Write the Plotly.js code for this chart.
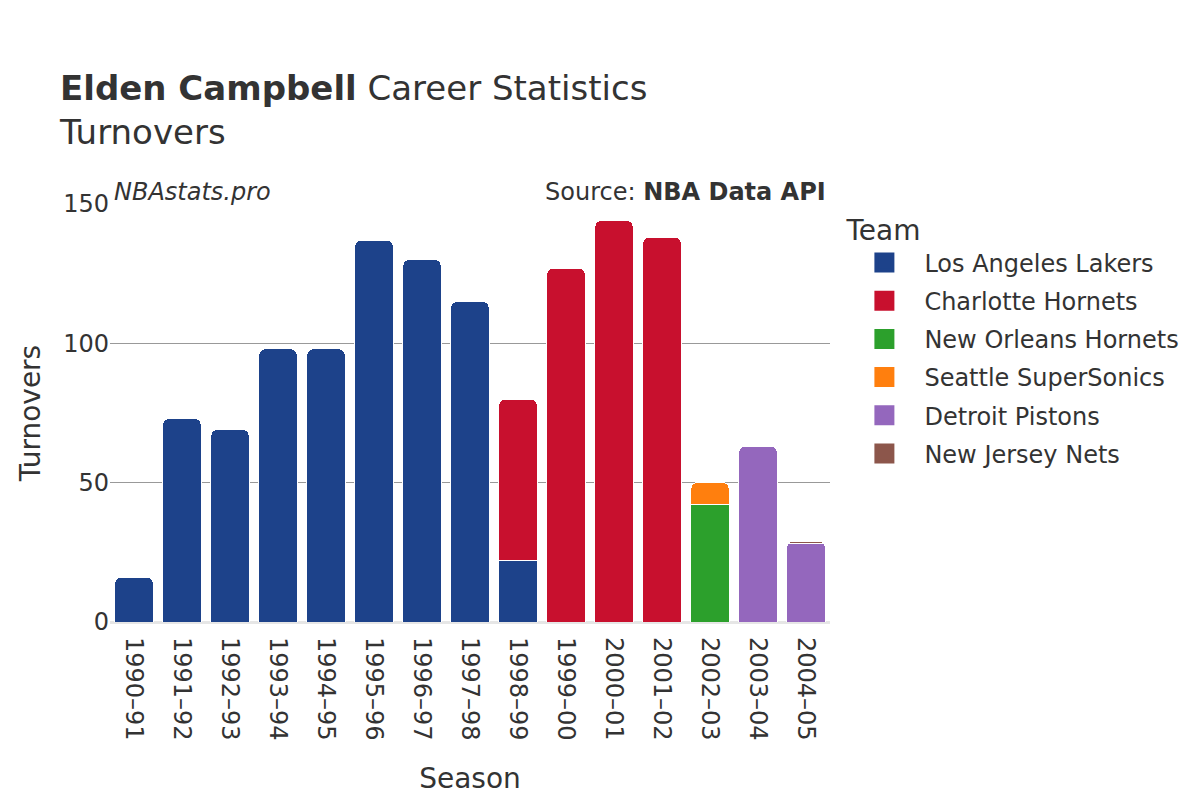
<!DOCTYPE html>
<html>
<head>
<meta charset="utf-8">
<script src="https://cdn.plot.ly/plotly-3.0.1.min.js"></script>
<style>html,body{margin:0;padding:0;background:#fff;}#chart{width:1200px;height:800px;}</style>
</head>
<body>
<div id="chart"></div>
<script>
const seasons = ["1990–91","1991–92","1992–93","1993–94","1994–95","1995–96","1996–97","1997–98","1998–99","1999–00","2000–01","2001–02","2002–03","2003–04","2004–05"];
const teams = ["Los Angeles Lakers","Charlotte Hornets","New Orleans Hornets","Seattle SuperSonics","Detroit Pistons","New Jersey Nets"];
const teamColors = ["#1D428A","#C8102E","#2CA02C","#FF7F0E","#9467BD","#8C564B"];
const lakers   = [16,73,69,98,98,137,130,115,22,null,null,null,null,null,null];
const charlotte= [null,null,null,null,null,null,null,null,58,127,144,138,null,null,null];
const noh      = [null,null,null,null,null,null,null,null,null,null,null,null,42,null,null];
const seattle  = [null,null,null,null,null,null,null,null,null,null,null,null,8,null,null];
const detroit  = [null,null,null,null,null,null,null,null,null,null,null,null,null,63,28];
const nets     = [null,null,null,null,null,null,null,null,null,null,null,null,null,null,1];
const seriesValues = [lakers,charlotte,noh,seattle,detroit,nets];

const barTraces = teams.map((t,i)=>({
  type:"bar", name:t, x:seasons, y:seriesValues[i], legendgroup:"g"+i, showlegend:false,
  marker:{color:teamColors[i], line:{color:"#ffffff", width:1}},
  hoverinfo:"skip"
}));
// legend-only swatches (larger squares like the reference)
const legendTraces = teams.map((t,i)=>({
  type:"scatter", mode:"markers", name:t, x:[null], y:[null], legendgroup:"g"+i, showlegend:true,
  marker:{symbol:"square", size:16, color:teamColors[i], line:{color:teamColors[i], width:4}},
  hoverinfo:"skip"
}));

const font = {family:"DejaVu Sans, sans-serif", color:"#333333"};
const F = (s)=>Object.assign({}, font, {size:s});
const layout = {
  width:1200, height:800,
  barmode:"stack", bargap:0.2, barcornerradius:6,
  font:F(24),
  paper_bgcolor:"#ffffff", plot_bgcolor:"#ffffff",
  margin:{l:110, r:370, t:204, b:178},
  title:{text:"<b>Elden Campbell</b> Career Statistics<br>Turnovers", x:0.05, xanchor:"left", y:0.875, yanchor:"top",
         font:F(34)},
  xaxis:{title:{text:"Season", font:F(28), standoff:28},
         tickangle:90, tickfont:F(24), showgrid:false, ticks:"", ticklabelstandoff:14},
  yaxis:{title:{text:"Turnovers", font:F(28), standoff:14},
         range:[0,150], tickvals:[0,50,100,150], tickfont:F(24),
         gridcolor:"#999999", gridwidth:1, zeroline:true, zerolinecolor:"#e6e6e6", zerolinewidth:3, ticks:""},
  legend:{title:{text:"Team", font:F(28)}, traceorder:"grouped", tracegroupgap:4, itemwidth:70,
          x:1.02, xanchor:"left", y:1.0, yanchor:"top",
          font:F(24), itemsizing:"trace"},
  showlegend:true,
  annotations:[
    {text:"<i>NBAstats.pro</i>", xref:"paper", yref:"paper", x:0.003, y:1.0, yshift:-4, xanchor:"left", yanchor:"bottom", showarrow:false, font:F(24)},
    {text:"Source: <b>NBA Data API</b>", xref:"paper", yref:"paper", x:0.997, y:1.0, yshift:-4, xanchor:"right", yanchor:"bottom", showarrow:false, font:F(24)}
  ]
};
Plotly.newPlot("chart", barTraces.concat(legendTraces), layout, {displayModeBar:false, staticPlot:true});
</script>
</body>
</html>
